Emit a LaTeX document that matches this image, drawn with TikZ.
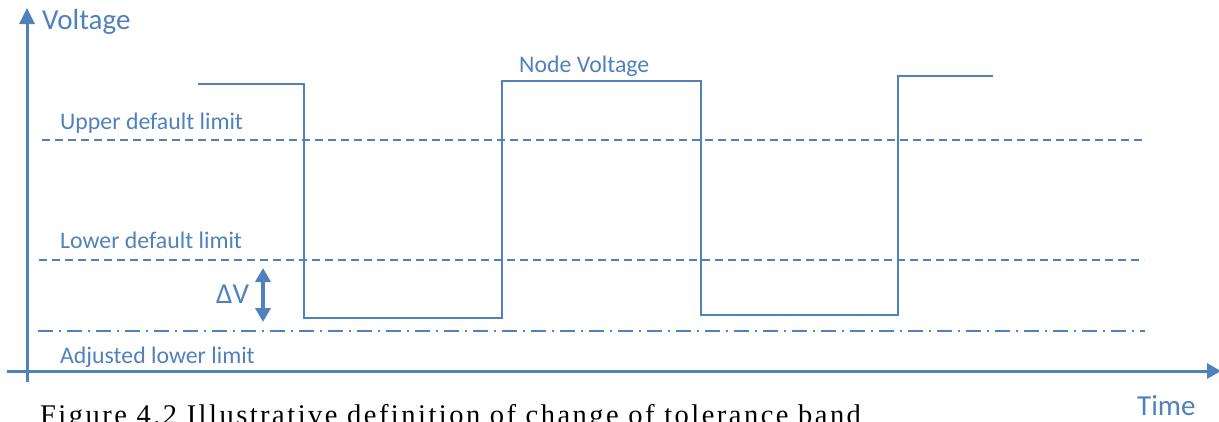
\documentclass[tikz,border=0pt]{standalone}
\usepackage{fontspec}
\setmainfont{Carlito}
\newfontfamily\capfont[LetterSpace=8.7]{Liberation Serif}
\usetikzlibrary{arrows.meta}
\definecolor{plotblue}{RGB}{79,129,189}
\tikzset{
  axisline/.style={draw=plotblue, line width=3pt},
  wave/.style={draw=plotblue, line width=2pt, line join=miter},
  limitdash/.style={draw=plotblue, line width=2pt, dash pattern=on 8pt off 5pt},
  limitdashdot/.style={draw=plotblue, line width=2pt, dash pattern=on 15pt off 6pt on 2pt off 6pt},
  lbl/.style={text=plotblue, inner sep=0pt, anchor=base west, font=\fontsize{23.8}{28}\selectfont},
  biglbl/.style={text=plotblue, inner sep=0pt, anchor=base west, font=\fontsize{29}{34}\selectfont},
}
\begin{document}
\begin{tikzpicture}[x=1pt, y=-1pt]
\useasboundingbox (0,0) rectangle (1219,421);
\clip (0,0) rectangle (1219,421);

% axes
\coordinate (yb) at (27,382);
\coordinate (yt) at (27,8);
\coordinate (xl) at (7,371);
\coordinate (xr) at (1221,371);
\draw[axisline, -{Triangle[length=16pt,width=15pt]}] (yb) -- (yt);
\draw[axisline, -{Triangle[length=14pt,width=15pt]}] (xl) -- (xr);
\node[biglbl] (vlab) at (42,29) {Voltage};
\node[biglbl] (tlab) at (1137,415) {Time};

% limit lines
\coordinate (u1) at (42,140);   \coordinate (u2) at (1146,140);
\coordinate (l1) at (39,260);   \coordinate (l2) at (1144,260);
\coordinate (a1) at (38,331);   \coordinate (a2) at (1145,331);
\draw[limitdash] (u1) -- (u2);
\draw[limitdash] (l1) -- (l2);
\draw[limitdashdot] (a1) -- (a2);
\node[lbl] (ulab) at (60,129) {Upper default limit};
\node[lbl] (llab) at (60,248) {Lower default limit};
\node[lbl] (alab) at (60,363) {Adjusted lower limit};

% node voltage waveform
\coordinate (w0) at (198,84);
\coordinate (w1) at (304,84);
\coordinate (w2) at (304,318);
\coordinate (w3) at (502,318);
\coordinate (w4) at (502,81);
\coordinate (w5) at (701,81);
\coordinate (w6) at (701,315);
\coordinate (w7) at (898,315);
\coordinate (w8) at (898,76);
\coordinate (w9) at (993,76);
\draw[wave] (w0) -- (w1) -- (w2) -- (w3) -- (w4) -- (w5) -- (w6) -- (w7) -- (w8) -- (w9);
\node[lbl] (nlab) at (519,72) {Node Voltage};

% tolerance shift
\coordinate (dvt) at (263,268);
\coordinate (dvb) at (263,322);
\draw[draw=plotblue, line width=3.5pt, {Triangle[length=14pt,width=15pt]}-{Triangle[length=14pt,width=15pt]}] (dvt) -- (dvb);
\node[biglbl] (dvlab) at (216,303) {ΔV};

% caption, running off the lower edge
\node[inner sep=0pt, anchor=base west, text=black, font=\capfont\fontsize{28.5}{32}\selectfont] (cap) at (40,424) {Figure 4.2 Illustrative definition of change of tolerance band};
\end{tikzpicture}
\end{document}
